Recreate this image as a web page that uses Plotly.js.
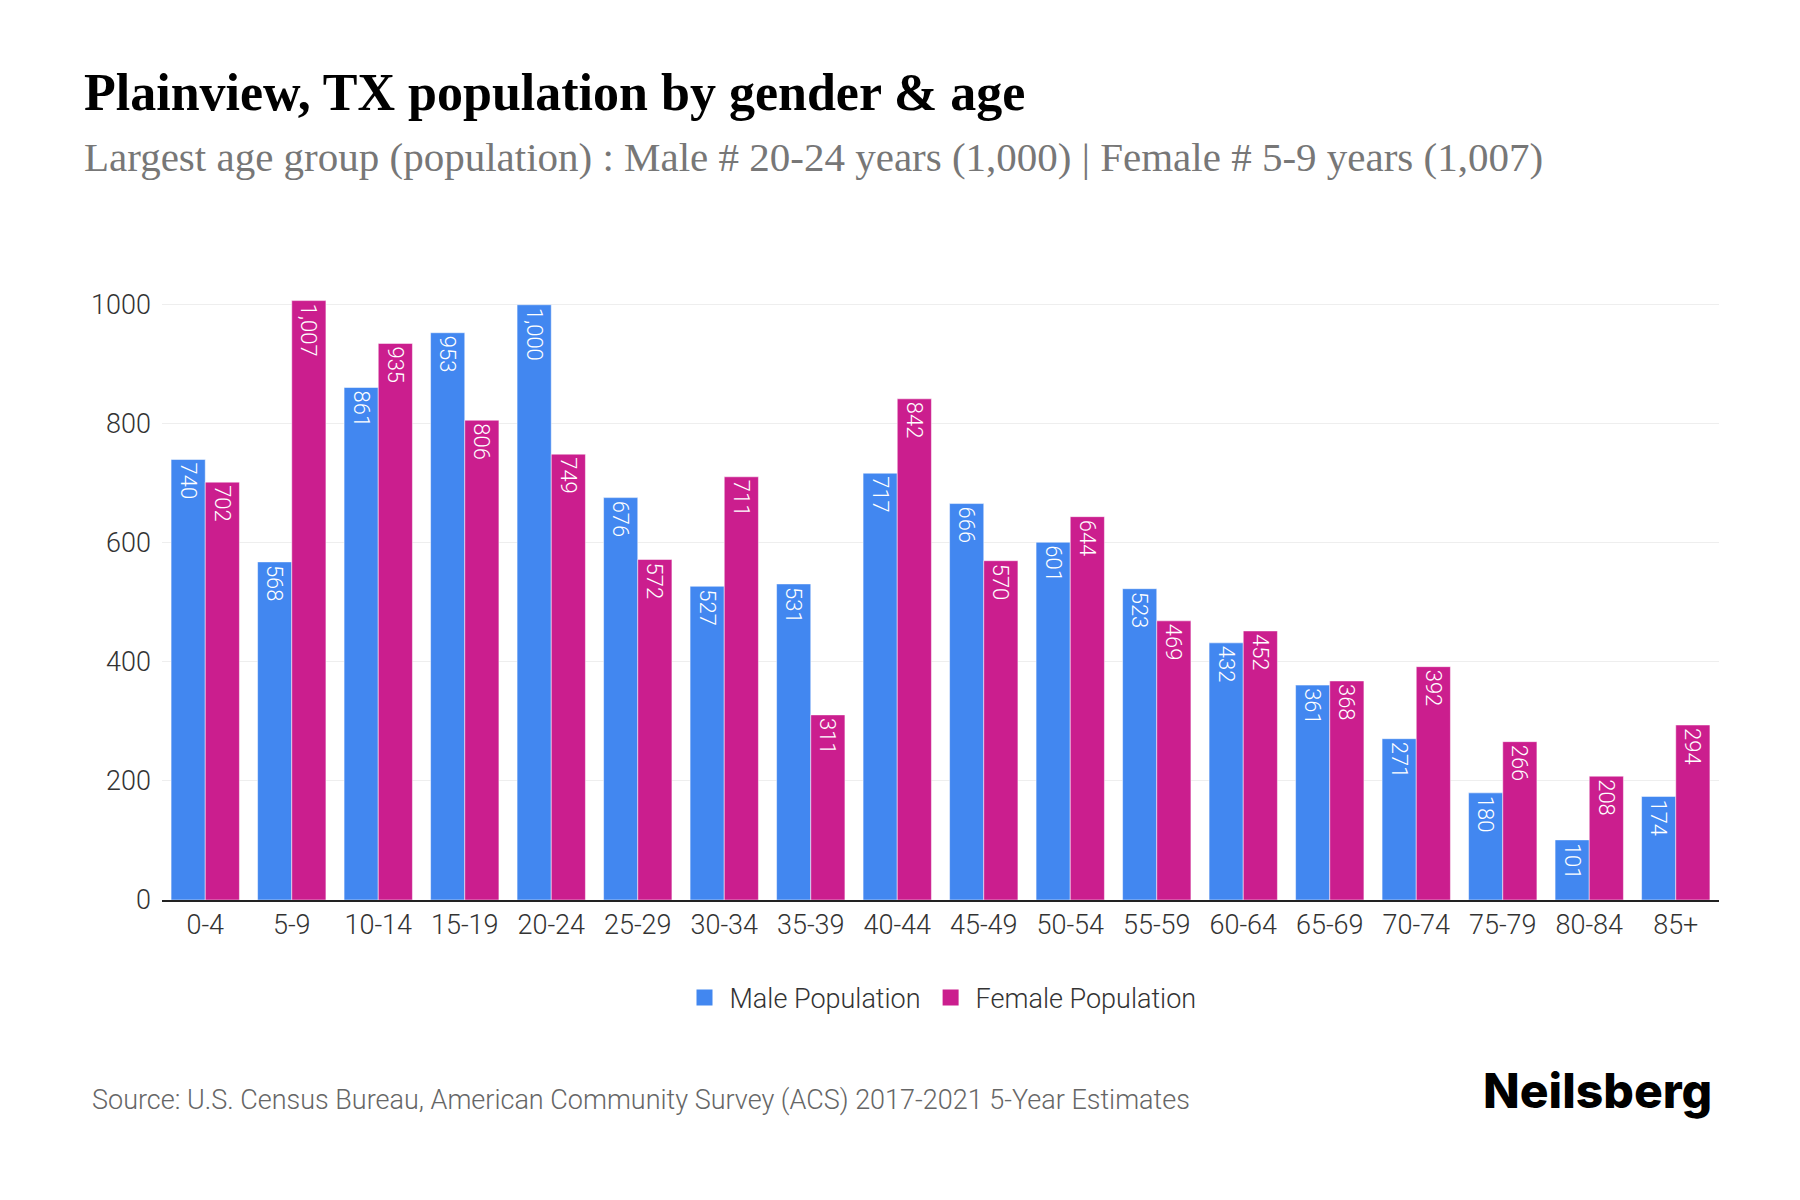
<!DOCTYPE html>
<html>
<head>
<meta charset="utf-8">
<script src="https://cdn.plot.ly/plotly-3.0.1.min.js"></script>
<style>html,body{margin:0;padding:0;background:#fff;}#chart{width:1800px;height:1200px;}</style>
</head>
<body>
<div id="chart"></div>
<script>
const ageGroups = ["0-4","5-9","10-14","15-19","20-24","25-29","30-34","35-39","40-44","45-49","50-54","55-59","60-64","65-69","70-74","75-79","80-84","85+"];
const malePopulation = [740,568,861,953,1000,676,527,531,717,666,601,523,432,361,271,180,101,174];
const femalePopulation = [702,1007,935,806,749,572,711,311,842,570,644,469,452,368,392,266,208,294];
const yTicks = [0,200,400,600,800,1000];
const seriesNames = ["Male Population", "Female Population"];
const seriesColors = ["#4287f0", "#cb1e8e"];

const W = 1800, H = 1200;
const mL = 162, mR = 81, mT = 275, mB = 300;
const pw = W - mL - mR, ph = H - mT - mB;
const px = x => (x - mL) / pw;
const py = y => (H - mB - y) / ph;

const LIGHT = "Roboto Light, Roboto";
const labelFont = {family: LIGHT, size: 22, color: "#ffffff", weight: 300};

function barTrace(name, values, color) {
  return {type: "bar", name: name, x: ageGroups, y: values, showlegend: false,
   marker: {color: color, line: {color: "#ffffff", width: 0.5}},
   texttemplate: "%{y:,}", textposition: "inside", insidetextanchor: "end", textangle: 90,
   insidetextfont: labelFont, constraintext: "none", hoverinfo: "x+y"};
}
function legendTrace(name, color) {
  return {type: "scatter", mode: "markers", name: name, x: [ageGroups[0]], y: [null],
   marker: {symbol: "square", size: 16, color: color}, showlegend: true, hoverinfo: "skip"};
}

const traces = [
  barTrace(seriesNames[0], malePopulation, seriesColors[0]),
  barTrace(seriesNames[1], femalePopulation, seriesColors[1]),
  legendTrace(seriesNames[0], seriesColors[0]),
  legendTrace(seriesNames[1], seriesColors[1])
];

const layout = {
  width: W, height: H,
  margin: {l: mL, r: mR, t: mT, b: mB},
  paper_bgcolor: "#ffffff", plot_bgcolor: "#ffffff",
  barmode: "group", bargap: 0.21, bargroupgap: 0.0,
  font: {family: LIGHT, color: "#333333"},
  xaxis: {type: "category", range: [-0.5, ageGroups.length - 0.5], autorange: false,
          showgrid: false, showline: true, linecolor: "#222222", linewidth: 2,
          ticks: "", tickfont: {family: LIGHT, size: 27, color: "#333333", weight: 300}},
  yaxis: {range: [0, 1050], tickvals: yTicks, ticktext: yTicks.map(String), showgrid: true,
          gridcolor: "#eeeeee", gridwidth: 1, zeroline: false, showline: false, ticks: "",
          ticklabelstandoff: 10,
          tickfont: {family: LIGHT, size: 27, color: "#333333", weight: 300}},
  showlegend: true,
  legend: {orientation: "h", x: 0.5, xanchor: "center", y: py(998), yanchor: "middle",
           font: {family: LIGHT, size: 27, color: "#333333", weight: 300},
           itemsizing: "trace", traceorder: "normal", itemwidth: 40},
  annotations: [
    {text: "Plainview, TX population by gender & age", xref: "paper", yref: "paper",
     x: px(82), y: py(92), xanchor: "left", yanchor: "middle", showarrow: false,
     font: {family: "Liberation Serif", size: 52, color: "#000000", weight: 700}},
    {text: "Largest age group (population) : Male # 20-24 years (1,000) | Female # 5-9 years (1,007)",
     xref: "paper", yref: "paper", x: px(82), y: py(157), xanchor: "left", yanchor: "middle", showarrow: false,
     font: {family: "Liberation Serif", size: 41, color: "#777777"}},
    {text: "Source: U.S. Census Bureau, American Community Survey (ACS) 2017-2021 5-Year Estimates",
     xref: "paper", yref: "paper", x: px(90), y: py(1100), xanchor: "left", yanchor: "middle", showarrow: false,
     font: {family: LIGHT, size: 27, color: "#666666", weight: 300}},
    {text: "Neilsberg", xref: "paper", yref: "paper", x: px(1714), y: py(1090), xanchor: "right", yanchor: "middle",
     showarrow: false, font: {family: "Inter", size: 48, color: "#000000", weight: 800}}
  ]
};

Plotly.newPlot("chart", traces, layout, {staticPlot: true, displayModeBar: false});
</script>
</body>
</html>
